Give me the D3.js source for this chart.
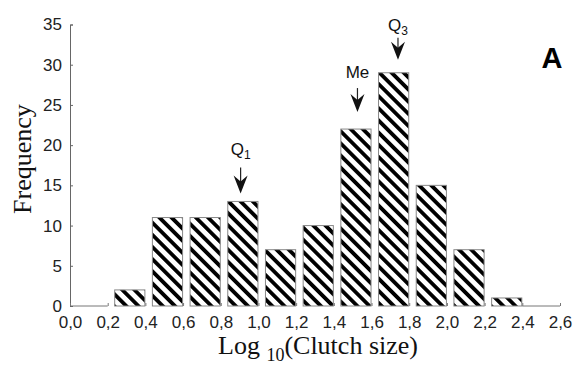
<!DOCTYPE html>
<html>
<head>
<meta charset="utf-8">
<script src="https://cdn.jsdelivr.net/npm/d3@7"></script>
<style>
  body { margin: 0; background: #fff; }
  svg { display: block; }
  .tick text { font-family: "Liberation Sans", Arial, sans-serif; font-size: 17px; fill: #222; }
</style>
</head>
<body>
<svg width="577" height="366"></svg>
<script>
// bins of log10(clutch size), counts
var binStarts = [0.0, 0.2, 0.4, 0.6, 0.8, 1.0, 1.2, 1.4, 1.6, 1.8, 2.0, 2.2, 2.4];
var counts = [0, 2, 11, 11, 13, 7, 10, 22, 29, 15, 7, 1, 0];
var binWidth = 0.2;
var xTicks = [0, 0.2, 0.4, 0.6, 0.8, 1.0, 1.2, 1.4, 1.6, 1.8, 2.0, 2.2, 2.4, 2.6];
var yTicks = [0, 5, 10, 15, 20, 25, 30, 35];
// quartile markers
var markNames = ["Q", "Me", "Q"];
var markSubs = ["1", "", "3"];
var markX = [0.9, 1.52, 1.735];
var markBar = [13, 22, 29];

var svg = d3.select("svg"),
  width = +svg.attr("width"),
  height = +svg.attr("height");

var x = d3.scaleLinear().domain([0, 2.6]).range([70, 560]);
var y = d3.scaleLinear().domain([0, 35]).range([306, 24.5]);

// stripes going from top-left down to bottom-right
var defs = svg.append("defs");
var pat = defs.append("pattern")
  .attr("id", "hatch")
  .attr("patternUnits", "userSpaceOnUse")
  .attr("width", 8.6)
  .attr("height", 8.6)
  .attr("patternTransform", "rotate(-45)");
pat.append("rect").attr("width", 8.6).attr("height", 8.6).attr("fill", "#fff");
pat.append("rect").attr("width", 3.8).attr("height", 8.6).attr("fill", "#000");

var data = binStarts.map(function (d, i) { return { x0: d, x1: d + binWidth, n: counts[i] }; });

var g = svg.append("g");

g.selectAll("rect.bar")
  .data(data.filter(function (d) { return d.n > 0; }))
  .enter()
  .append("rect")
  .attr("class", "bar")
  .attr("x", function (d) { return x(d.x0) + 7; })
  .attr("y", function (d) { return y(d.n); })
  .attr("width", function (d) { return x(d.x1) - x(d.x0) - 7.5; })
  .attr("height", function (d) { return y(0) - y(d.n); })
  .attr("fill", "url(#hatch)")
  .attr("stroke", "#888")
  .attr("stroke-width", 1);

// empty bins show only as a baseline
g.selectAll("line.empty")
  .data(data.filter(function (d) { return d.n === 0; }))
  .enter()
  .append("line")
  .attr("class", "empty")
  .attr("x1", function (d) { return x(d.x0); })
  .attr("x2", function (d) { return x(d.x1); })
  .attr("y1", y(0))
  .attr("y2", y(0))
  .attr("stroke", "#777")
  .attr("stroke-width", 1);

// y axis
var yAxis = d3.axisLeft(y).tickValues(yTicks).tickSize(-3).tickPadding(8)
  .tickFormat(d3.format("d"));
var ya = svg.append("g").attr("transform", "translate(" + x(0) + ",0)").call(yAxis);
ya.select(".domain").attr("stroke", "#666");
ya.selectAll(".tick line").attr("stroke", "#666");

// x axis: tick labels and small inward ticks, no domain line
var xAxis = d3.axisBottom(x).tickValues(xTicks).tickSize(-3).tickPadding(10)
  .tickFormat(function (d) { return d3.format(".1f")(d).replace(".", ","); });
var xa = svg.append("g").attr("transform", "translate(0," + y(0) + ")").call(xAxis);
xa.select(".domain").remove();
xa.selectAll(".tick line").attr("stroke", "#777");

// axis titles
svg.append("text")
  .attr("transform", "translate(31,159) rotate(-90)")
  .attr("text-anchor", "middle")
  .attr("font-family", "Liberation Serif, Times New Roman, serif")
  .attr("font-size", 26)
  .attr("fill", "#111")
  .text("Frequency");

var xt = svg.append("text")
  .attr("x", 218)
  .attr("y", 354)
  .attr("font-family", "Liberation Serif, Times New Roman, serif")
  .attr("font-size", 26)
  .attr("fill", "#111");
xt.append("tspan").text("Log ");
xt.append("tspan").attr("font-size", 18).attr("dy", 7).text("10");
xt.append("tspan").attr("dy", -7).text("(Clutch size)");

// panel letter
svg.append("text")
  .attr("x", 552)
  .attr("y", 68)
  .attr("text-anchor", "middle")
  .attr("font-family", "Liberation Sans, Arial, sans-serif")
  .attr("font-weight", "bold")
  .attr("font-size", 29)
  .attr("fill", "#000")
  .text("A");

// quartile arrows and labels (gap above bar, shaft length, label offset per marker)
var tipGap = [8, 17, 13];
var shaftLen = [26, 24, 22];
var labelOff = [38, 34, 29];
markX.forEach(function (m, i) {
  var cx = x(m) + 1;
  var tip = y(markBar[i]) - tipGap[i];
  var mg = svg.append("g").attr("transform", "translate(" + cx + "," + tip + ")");
  mg.append("line").attr("x1", 0).attr("x2", 0).attr("y1", -shaftLen[i]).attr("y2", -10)
    .attr("stroke", "#222").attr("stroke-width", 1.2);
  mg.append("path").attr("d", "M0,0 L-7,-18 L0,-12 L7,-18 Z").attr("fill", "#111");
  var t = mg.append("text")
    .attr("x", 0)
    .attr("y", -labelOff[i])
    .attr("text-anchor", "middle")
    .attr("font-family", "Liberation Sans, Arial, sans-serif")
    .attr("font-size", 17)
    .attr("fill", "#111");
  t.append("tspan").text(markNames[i]);
  if (markSubs[i]) t.append("tspan").attr("font-size", 12).attr("dy", 4).text(markSubs[i]);
});
</script>
</body>
</html>
